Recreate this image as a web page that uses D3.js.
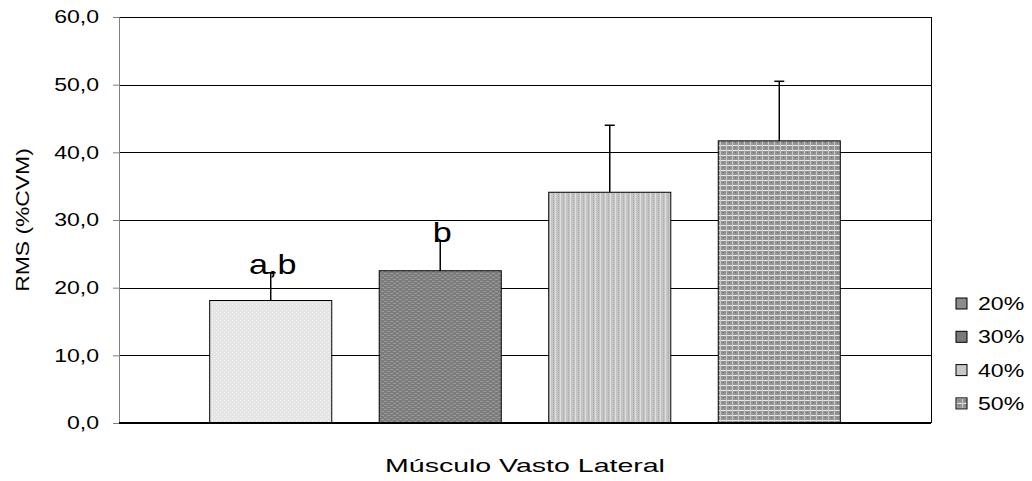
<!doctype html>
<html lang="pt">
  <head>
    <meta charset="utf-8">
    <title>RMS Vasto Lateral</title>
    <script src="https://d3js.org/d3.v7.min.js"></script>
    <style>
    body { margin: 0; background: #fff; }
    text { font-family: "Liberation Sans", Arial, sans-serif; fill: #000; }
    </style>
  </head>
  <body>
    <svg width="1032" height="481"></svg>

    <script>
      // data
      var series = ['20%', '30%', '40%', '50%'];
      var means = [18.1, 22.5, 34.1, 41.7];
      var errors = [4.1, 4.4, 9.9, 8.8];
      var marks = ['a,b', 'b', '', ''];
      var yTicks = [0, 10, 20, 30, 40, 50, 60];

      var svg = d3.select('svg');
      var mLeft = 119, mRight = 931, mTop = 17, mBottom = 423;

      // the original text is drawn wider than normal arial
      function stretch(sel, k) {
        sel.each(function(){
          var len = this.getComputedTextLength();
          if (len > 0) d3.select(this).attr('textLength', len * k).attr('lengthAdjust', 'spacingAndGlyphs');
        });
      }

      // fill patterns, roughly like the excel ones
      var defs = svg.append('defs');
      function pat(id, w, h, bg, draw) {
        var p = defs.append('pattern').attr('id', id)
          .attr('patternUnits', 'userSpaceOnUse')
          .attr('width', w).attr('height', h);
        p.append('rect').attr('width', w).attr('height', h).attr('fill', bg);
        draw(p);
      }
      pat('p20', 4, 4, '#e4e4e4', function(p){
        p.append('rect').attr('x', 0).attr('y', 0).attr('width', 1).attr('height', 1).attr('fill', '#f8f8f8');
        p.append('rect').attr('x', 2).attr('y', 2).attr('width', 1).attr('height', 1).attr('fill', '#f8f8f8');
      });
      pat('p30', 6, 4, '#7c7c7c', function(p){
        p.append('rect').attr('x', 0).attr('y', 1).attr('width', 3).attr('height', 1).attr('fill', '#9a9a9a');
        p.append('rect').attr('x', 3).attr('y', 3).attr('width', 3).attr('height', 1).attr('fill', '#9a9a9a');
      });
      pat('p40', 5, 2, '#c4c4c4', function(p){
        p.append('rect').attr('x', 0).attr('y', 0).attr('width', 1).attr('height', 2).attr('fill', '#e0e0e0');
        p.append('rect').attr('x', 3).attr('y', 0).attr('width', 1).attr('height', 1).attr('fill', '#a8a8a8');
      });
      pat('p50', 6, 5, '#949494', function(p){
        p.append('rect').attr('x', 0).attr('y', 0).attr('width', 6).attr('height', 1).attr('fill', '#e8e8e8');
        p.append('rect').attr('x', 0).attr('y', 0).attr('width', 1).attr('height', 5).attr('fill', '#c8c8c8');
        p.append('rect').attr('x', 3).attr('y', 2).attr('width', 1).attr('height', 1).attr('fill', '#707070');
      });
      var fills = ['url(#p20)', 'url(#p30)', 'url(#p40)', 'url(#p50)'];
      var legendFills = ['#8c8c8c', '#7a7a7a', '#c8c8c8', 'url(#p50)'];

      var y = d3.scaleLinear().domain([0, 60]).range([mBottom, mTop]);
      var x = d3.scaleBand().domain(series).range([mLeft, mRight])
        .paddingInner(0.28).paddingOuter(0.535);

      // gridlines
      svg.append('g').selectAll('line').data(yTicks.slice(1))
        .enter().append('line')
          .attr('x1', mLeft).attr('x2', mRight)
          .attr('y1', function(d){ return Math.round(y(d)) + 0.5; })
          .attr('y2', function(d){ return Math.round(y(d)) + 0.5; })
          .attr('stroke', '#000').attr('stroke-width', 1);

      // right border
      svg.append('line').attr('x1', mRight + 0.5).attr('x2', mRight + 0.5)
        .attr('y1', mTop).attr('y2', mBottom).attr('stroke', '#000');

      // y axis
      var yAxis = d3.axisLeft(y).tickValues(yTicks).tickSize(6).tickPadding(14)
        .tickFormat(function(d){ return d.toFixed(1).replace('.', ','); });
      var ya = svg.append('g').attr('transform', 'translate(' + mLeft + ',0)').call(yAxis);
      ya.select('.domain').attr('stroke', '#808080');
      ya.selectAll('.tick line').attr('stroke', '#808080');
      ya.selectAll('.tick text').style('font-size', '18px').attr('fill', '#000')
        .style('font-family', '"Liberation Sans", Arial, sans-serif')
        .call(stretch, 1.28);

      // bars
      svg.append('g').selectAll('rect').data(series)
        .enter().append('rect')
          .attr('x', function(d){ return x(d); })
          .attr('width', x.bandwidth())
          .attr('y', function(d, i){ return y(means[i]); })
          .attr('height', function(d, i){ return mBottom - y(means[i]); })
          .attr('fill', function(d, i){ return fills[i]; })
          .attr('stroke', '#000').attr('stroke-width', 1);

      // error bars (upper only)
      var eb = svg.append('g').selectAll('g').data(series).enter().append('g');
      eb.append('line')
        .attr('x1', function(d){ return x(d) + x.bandwidth() / 2; })
        .attr('x2', function(d){ return x(d) + x.bandwidth() / 2; })
        .attr('y1', function(d, i){ return y(means[i]); })
        .attr('y2', function(d, i){ return y(means[i] + errors[i]); })
        .attr('stroke', '#000').attr('stroke-width', 1.5);
      eb.append('line')
        .attr('x1', function(d){ return x(d) + x.bandwidth() / 2 - 5; })
        .attr('x2', function(d){ return x(d) + x.bandwidth() / 2 + 5; })
        .attr('y1', function(d, i){ return y(means[i] + errors[i]); })
        .attr('y2', function(d, i){ return y(means[i] + errors[i]); })
        .attr('stroke', '#000').attr('stroke-width', 1.5);

      // bottom axis line
      svg.append('line').attr('x1', mLeft).attr('x2', mRight)
        .attr('y1', mBottom).attr('y2', mBottom).attr('stroke', '#000').attr('stroke-width', 2);

      // significance letters
      svg.append('g').selectAll('text').data(series)
        .enter().append('text')
          .attr('x', function(d){ return x(d) + x.bandwidth() / 2 + 2; })
          .attr('y', function(d, i){ return y(means[i] + errors[i]) + 1; })
          .attr('text-anchor', 'middle')
          .style('font-size', '28px')
          .text(function(d, i){ return marks[i]; })
          .call(stretch, 1.22);

      // axis titles
      svg.append('text').attr('transform', 'translate(29,220) rotate(-90)')
        .attr('text-anchor', 'middle').style('font-size', '18px')
        .text('RMS (%CVM)').call(stretch, 1.27);
      svg.append('text').attr('x', 525).attr('y', 472)
        .attr('text-anchor', 'middle').style('font-size', '19px')
        .text('Músculo Vasto Lateral').call(stretch, 1.5);

      // legend
      var lg = svg.append('g').selectAll('g').data(series).enter().append('g')
        .attr('transform', function(d, i){ return 'translate(956,' + (298 + i * 33.3) + ')'; });
      lg.append('rect').attr('width', 11).attr('height', 11)
        .attr('fill', function(d, i){ return legendFills[i]; })
        .attr('stroke', '#000').attr('stroke-width', 1);
      lg.append('text').attr('x', 22).attr('y', 12).style('font-size', '18px')
        .text(function(d){ return d; }).call(stretch, 1.28);
    </script>
  </body>
</html>
